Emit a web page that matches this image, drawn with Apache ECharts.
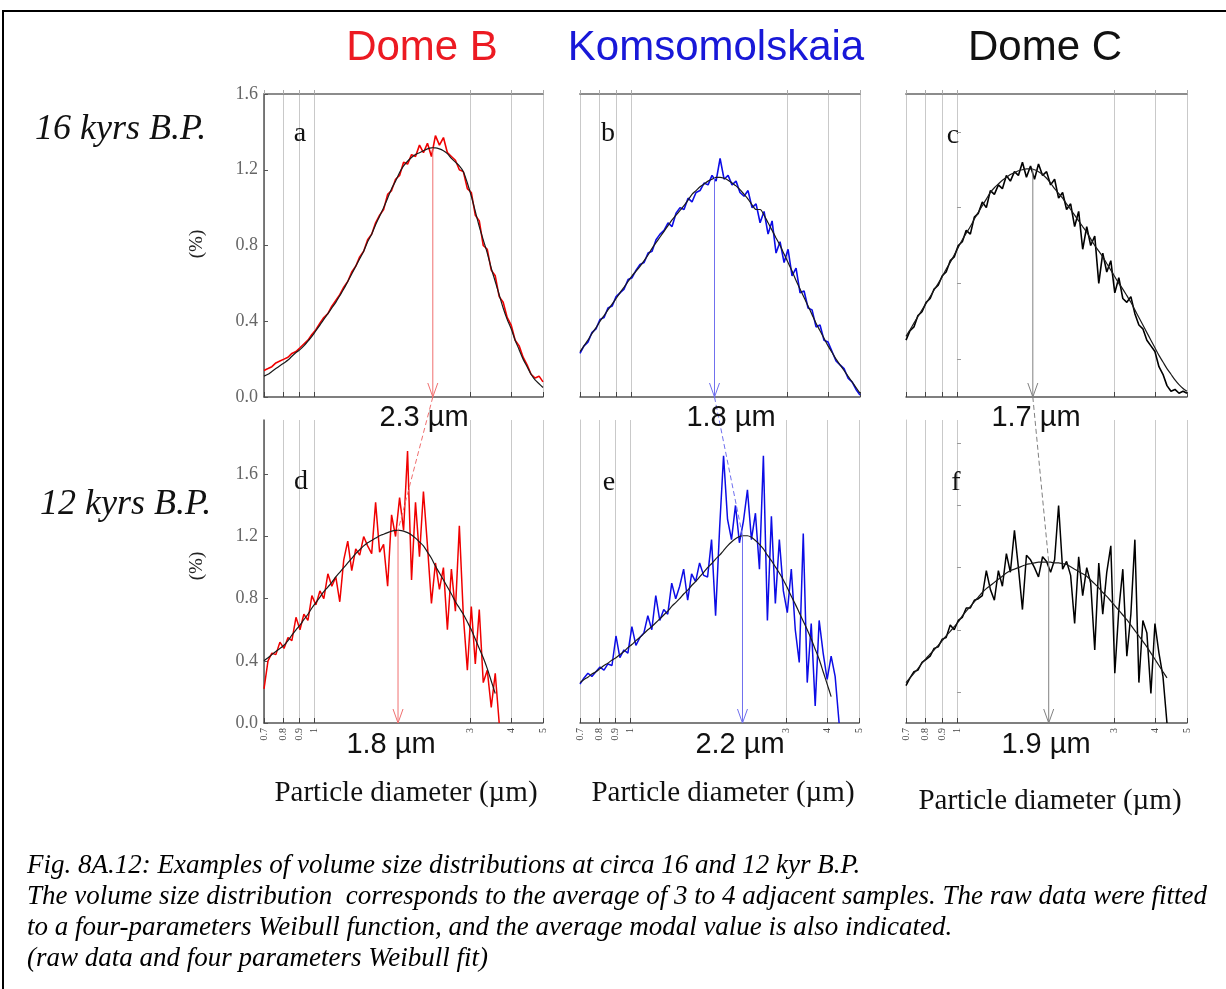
<!DOCTYPE html>
<html>
<head>
<meta charset="utf-8">
<script src="https://cdn.jsdelivr.net/npm/echarts@6/dist/echarts.min.js"></script>
<style>
html, body { margin: 0; padding: 0; background: #fff; }
#chart { width: 1226px; height: 989px; }
</style>
</head>
<body>
<div id="chart"></div>
<script>
// particle diameter grid (um), log spaced, shared by all panels
var diam = [0.700, 0.720, 0.740, 0.761, 0.783, 0.806, 0.829, 0.852, 0.877, 0.902,
    0.927, 0.954, 0.981, 1.009, 1.038, 1.067, 1.098, 1.129, 1.161, 1.194,
    1.228, 1.263, 1.299, 1.336, 1.374, 1.413, 1.453, 1.495, 1.537, 1.581,
    1.626, 1.673, 1.720, 1.769, 1.820, 1.872, 1.925, 1.980, 2.036, 2.094,
    2.153, 2.215, 2.278, 2.343, 2.410, 2.479, 2.549, 2.622, 2.697, 2.773,
    2.852, 2.934, 3.017, 3.103, 3.191, 3.282, 3.376, 3.472, 3.571, 3.672,
    3.776, 3.884, 3.995, 4.109, 4.226, 4.346, 4.470, 4.597, 4.728, 4.863, 5.000];

// a - Dome B, 16 kyr
var rawA = [0.14, 0.15, 0.16, 0.18, 0.19, 0.20, 0.21, 0.23, 0.24, 0.26,
    0.28, 0.30, 0.33, 0.355, 0.39, 0.42, 0.44, 0.48, 0.51, 0.54,
    0.58, 0.61, 0.66, 0.69, 0.74, 0.77, 0.83, 0.86, 0.92, 0.96,
    0.99, 1.07, 1.09, 1.15, 1.17, 1.24, 1.23, 1.28, 1.27, 1.33,
    1.29, 1.34, 1.27, 1.38, 1.33, 1.37, 1.29, 1.27, 1.25, 1.20,
    1.19, 1.10, 1.08, 0.96, 0.93, 0.80, 0.78, 0.67, 0.64, 0.53,
    0.50, 0.42, 0.38, 0.30, 0.27, 0.21, 0.17, 0.12, 0.10, 0.11, 0.08];
var fitA = [0.11, 0.12, 0.135, 0.15, 0.165, 0.18, 0.195, 0.215, 0.235, 0.25,
    0.27, 0.295, 0.32, 0.35, 0.38, 0.41, 0.44, 0.47, 0.50, 0.535,
    0.57, 0.61, 0.65, 0.69, 0.73, 0.77, 0.82, 0.86, 0.91, 0.955,
    1.00, 1.05, 1.10, 1.14, 1.185, 1.22, 1.245, 1.265, 1.28, 1.29,
    1.30, 1.31, 1.315, 1.315, 1.31, 1.30, 1.285, 1.26, 1.24, 1.22,
    1.19, 1.13, 1.06, 0.98, 0.90, 0.83, 0.76, 0.68, 0.61, 0.54,
    0.47, 0.41, 0.36, 0.30, 0.25, 0.20, 0.16, 0.12, 0.09, 0.07, 0.05];

// b - Komsomolskaia, 16 kyr
var rawB = [0.23, 0.27, 0.29, 0.34, 0.36, 0.41, 0.42, 0.47, 0.48, 0.53,
    0.55, 0.57, 0.62, 0.63, 0.67, 0.70, 0.71, 0.76, 0.77, 0.83,
    0.86, 0.88, 0.92, 0.90, 0.97, 1.00, 0.99, 1.05, 1.03, 1.08,
    1.09, 1.13, 1.12, 1.17, 1.14, 1.26, 1.15, 1.17, 1.12, 1.14,
    1.08, 1.06, 1.09, 1.00, 1.02, 0.92, 0.98, 0.86, 0.93, 0.76,
    0.82, 0.71, 0.78, 0.64, 0.68, 0.55, 0.56, 0.47, 0.46, 0.37,
    0.38, 0.30, 0.29, 0.24, 0.19, 0.17, 0.15, 0.10, 0.08, 0.04, 0.01];
var fitB = [0.24, 0.27, 0.30, 0.335, 0.365, 0.40, 0.43, 0.46, 0.49, 0.52,
    0.55, 0.58, 0.61, 0.64, 0.665, 0.69, 0.72, 0.75, 0.785, 0.815,
    0.845, 0.875, 0.905, 0.935, 0.96, 0.985, 1.01, 1.04, 1.07, 1.09,
    1.11, 1.125, 1.14, 1.15, 1.16, 1.16, 1.155, 1.145, 1.13, 1.115,
    1.095, 1.07, 1.045, 1.015, 0.99, 0.99, 0.96, 0.92, 0.88, 0.84,
    0.80, 0.755, 0.71, 0.665, 0.615, 0.57, 0.525, 0.48, 0.435, 0.39,
    0.35, 0.31, 0.27, 0.235, 0.20, 0.17, 0.14, 0.11, 0.08, 0.05, 0.02];

// c - Dome C, 16 kyr
var rawC = [0.30, 0.35, 0.37, 0.43, 0.45, 0.50, 0.52, 0.57, 0.59, 0.64,
    0.66, 0.72, 0.74, 0.80, 0.82, 0.88, 0.86, 0.95, 0.97, 1.03,
    1.00, 1.09, 1.07, 1.12, 1.10, 1.17, 1.14, 1.19, 1.17, 1.24,
    1.16, 1.22, 1.15, 1.23, 1.17, 1.19, 1.12, 1.15, 1.05, 1.08,
    0.99, 1.02, 0.90, 0.98, 0.78, 0.90, 0.80, 0.85, 0.60, 0.76,
    0.66, 0.72, 0.55, 0.63, 0.52, 0.50, 0.53, 0.44, 0.38, 0.36,
    0.30, 0.27, 0.24, 0.16, 0.12, 0.06, 0.03, 0.04, 0.02, 0.03, 0.02];
var fitC = [0.32, 0.355, 0.39, 0.425, 0.46, 0.495, 0.53, 0.565, 0.60, 0.635,
    0.675, 0.71, 0.75, 0.79, 0.83, 0.865, 0.90, 0.94, 0.975, 1.01,
    1.045, 1.08, 1.105, 1.125, 1.145, 1.16, 1.175, 1.185, 1.195, 1.20,
    1.205, 1.205, 1.20, 1.19, 1.175, 1.155, 1.13, 1.10, 1.075, 1.05,
    1.02, 0.99, 0.96, 0.93, 0.90, 0.87, 0.835, 0.80, 0.77, 0.74,
    0.705, 0.67, 0.635, 0.60, 0.57, 0.535, 0.50, 0.46, 0.42, 0.38,
    0.34, 0.30, 0.26, 0.22, 0.185, 0.15, 0.12, 0.09, 0.065, 0.045, 0.03];

// d - Dome B, 12 kyr
var rawD = [0.22, 0.40, 0.45, 0.44, 0.52, 0.48, 0.55, 0.53, 0.68, 0.60,
    0.70, 0.66, 0.82, 0.76, 0.85, 0.80, 0.96, 0.88, 0.94, 0.78,
    1.05, 1.17, 0.98, 1.12, 1.08, 1.20, 1.14, 1.09, 1.42, 1.10,
    1.15, 0.88, 1.34, 1.20, 1.45, 1.24, 1.75, 0.92, 1.42, 1.07,
    1.49, 1.14, 0.77, 1.03, 0.86, 1.00, 0.60, 0.99, 0.72, 1.27,
    0.69, 0.34, 0.75, 0.38, 0.73, 0.26, 0.34, 0.10, 0.32, 0.00];
var fitD = [0.40, 0.42, 0.44, 0.46, 0.48, 0.50, 0.53, 0.565, 0.60, 0.63,
    0.665, 0.70, 0.74, 0.775, 0.81, 0.845, 0.875, 0.905, 0.94, 0.97,
    1.00, 1.03, 1.06, 1.09, 1.115, 1.14, 1.16, 1.175, 1.19, 1.205,
    1.215, 1.225, 1.235, 1.24, 1.24, 1.235, 1.225, 1.21, 1.19, 1.165,
    1.14, 1.10, 1.06, 1.01, 0.965, 0.92, 0.875, 0.83, 0.78, 0.74,
    0.70, 0.65, 0.60, 0.54, 0.48, 0.42, 0.35, 0.27, 0.19];

// e - Komsomolskaia, 12 kyr
var rawE = [0.25, 0.29, 0.32, 0.30, 0.33, 0.36, 0.34, 0.38, 0.37, 0.56,
    0.42, 0.47, 0.45, 0.62, 0.50, 0.55, 0.58, 0.69, 0.60, 0.82,
    0.66, 0.73, 0.70, 0.90, 0.80, 0.88, 0.99, 0.79, 0.96, 0.91,
    1.03, 0.95, 0.94, 1.18, 0.69, 1.25, 1.72, 1.31, 1.18, 1.40,
    1.16, 1.30, 1.50, 1.18, 1.35, 0.99, 1.72, 0.66, 1.33, 0.77,
    1.18, 0.85, 0.71, 0.99, 0.60, 0.39, 1.22, 0.26, 0.64, 0.11,
    0.66, 0.45, 0.28, 0.43, 0.30, 0.00];
var fitE = [0.26, 0.28, 0.295, 0.315, 0.33, 0.35, 0.37, 0.385, 0.405, 0.42,
    0.44, 0.46, 0.485, 0.505, 0.53, 0.55, 0.575, 0.60, 0.62, 0.645,
    0.67, 0.695, 0.72, 0.75, 0.775, 0.80, 0.83, 0.855, 0.885, 0.91,
    0.94, 0.97, 1.00, 1.025, 1.055, 1.08, 1.11, 1.14, 1.165, 1.185,
    1.20, 1.205, 1.205, 1.195, 1.175, 1.15, 1.12, 1.08, 1.045, 1.005,
    0.965, 0.92, 0.87, 0.815, 0.765, 0.71, 0.655, 0.60, 0.54, 0.475,
    0.41, 0.33, 0.25, 0.17];

// f - Dome C, 12 kyr
var rawF = [0.24, 0.29, 0.33, 0.34, 0.39, 0.41, 0.43, 0.48, 0.49, 0.54,
    0.55, 0.63, 0.60, 0.66, 0.68, 0.74, 0.74, 0.79, 0.80, 0.82,
    0.98, 0.86, 0.79, 0.98, 0.88, 1.09, 0.97, 1.24, 1.00, 0.73,
    1.08, 1.05, 1.00, 0.94, 1.07, 1.04, 0.97, 1.05, 1.40, 0.99,
    1.04, 0.95, 0.64, 1.07, 0.82, 1.00, 0.90, 0.47, 1.03, 0.70,
    0.97, 1.14, 0.32, 0.73, 0.99, 0.43, 0.70, 1.18, 0.26, 0.66,
    0.58, 0.19, 0.64, 0.45, 0.30, 0.00];
var fitF = [0.26, 0.29, 0.32, 0.35, 0.385, 0.415, 0.445, 0.47, 0.50, 0.53,
    0.56, 0.59, 0.62, 0.65, 0.69, 0.72, 0.75, 0.78, 0.81, 0.84,
    0.865, 0.885, 0.905, 0.925, 0.945, 0.965, 0.98, 0.99, 1.00, 1.01,
    1.02, 1.025, 1.03, 1.035, 1.035, 1.035, 1.035, 1.03, 1.03, 1.025,
    1.02, 1.005, 0.99, 0.975, 0.96, 0.945, 0.92, 0.895, 0.87, 0.84,
    0.815, 0.785, 0.755, 0.725, 0.695, 0.665, 0.63, 0.595, 0.56, 0.525,
    0.49, 0.45, 0.41, 0.37, 0.33, 0.29];

// average modal values (um)
var topModes = [2.3, 1.8, 1.7];
var bottomModes = [1.8, 2.2, 1.9];

var gridTicks = [0.7, 0.8, 0.9, 1, 3, 4, 5];
var yTicks = [0, 0.4, 0.8, 1.2, 1.6];
var rightTicks = [0.2, 0.6, 1.0, 1.4, 1.8];
var sites = ['Dome B', 'Komsomolskaia', 'Dome C'];
var rowLabels = ['16 kyrs B.P.', '12 kyrs B.P.'];
var letters = ['a', 'b', 'c', 'd', 'e', 'f'];
var captionLines = [
    'Fig. 8A.12: Examples of volume size distributions at circa 16 and 12 kyr B.P.',
    'The volume size distribution  corresponds to the average of 3 to 4 adjacent samples. The raw data were fitted',
    'to a four-parameters Weibull function, and the average modal value is also indicated.',
    '(raw data and four parameters Weibull fit)'
];

var raws = [rawA, rawB, rawC, rawD, rawE, rawF];
var fits = [fitA, fitB, fitC, fitD, fitE, fitF];

// layout
var boxes = [
    [264, 94, 279, 303], [580, 94, 280, 303], [906, 94, 281, 303],
    [264, 420, 279, 303], [580, 420, 279, 303], [906, 420, 281, 303]
];
var siteColors = ['#f00000', '#0c0ce6', '#000000'];
var titleColors = ['#ec1a22', '#1818d8', '#111111'];
var arrowColors = ['#f07070', '#7070ee', '#808080'];
var titlePos = [422, 716, 1045];
var rowLabelPos = [[35, 130], [40, 505]];
var letterPos = [[300, 134], [608, 134], [953, 136], [301, 482], [609, 483], [956, 483]];
var modeLabelPos = [[424, 418], [731, 418], [1036, 418], [391, 745], [740, 745], [1046, 745]];
var xNamePos = [[406, 793], [723, 793], [1050, 801]];
var yNamePos = [[197, 244], [197, 566]];

var logMin = Math.log10(0.7);
var logMax = Math.log10(5);
var logTicks = gridTicks.map(function (v) { return Math.log10(v); });

function toPairs(vals) {
    return vals.map(function (v, i) { return [Math.log10(diam[i]), v]; });
}
function tickLabel(v) {
    var d = Math.pow(10, v);
    return d < 0.99 ? d.toFixed(1) : d.toFixed(0);
}
function peak(arr) {
    return Math.max.apply(null, arr);
}

var grids = [], xAxes = [], yAxes = [], series = [];
for (var i = 0; i < 6; i++) {
    var b = boxes[i];
    var isLeft = i % 3 === 0;
    var isBottom = i >= 3;
    var ymax = isBottom ? 1.95 : 1.6;
    grids.push({left: b[0], top: b[1], width: b[2], height: b[3]});
    xAxes.push({
        type: 'value', gridIndex: i, min: logMin, max: logMax,
        axisLine: {show: true, onZero: false, lineStyle: {color: '#555', width: 1.5}},
        axisTick: {show: true, inside: true, length: 5, customValues: logTicks,
            lineStyle: {color: '#444'}},
        axisLabel: {show: isBottom, customValues: logTicks, rotate: 90, margin: 5,
            fontSize: 10, fontFamily: 'Liberation Serif', color: '#444', formatter: tickLabel},
        splitLine: {show: true, lineStyle: {color: '#c9c9c9', width: 1}}
    });
    yAxes.push({
        type: 'value', gridIndex: i, min: 0, max: ymax,
        axisLine: {show: true, onZero: false,
            lineStyle: {color: isLeft ? '#555' : '#c9c9c9', width: isLeft ? 1.5 : 1}},
        axisTick: {show: isLeft, inside: true, length: 4, customValues: yTicks,
            lineStyle: {color: '#555'}},
        axisLabel: {show: isLeft, customValues: yTicks, margin: 6,
            fontSize: 18, fontFamily: 'Liberation Serif', color: '#666',
            formatter: function (v) { return v.toFixed(1); }},
        splitLine: {show: false}
    });
    var c = siteColors[i % 3];
    series.push({
        type: 'line', xAxisIndex: i, yAxisIndex: i, data: toPairs(raws[i]),
        symbol: 'none', silent: true,
        lineStyle: {color: c, width: isBottom ? 1.5 : 1.6}
    });
    series.push({
        type: 'line', xAxisIndex: i, yAxisIndex: i, data: toPairs(fits[i]),
        symbol: 'none', smooth: 0.3, silent: true,
        lineStyle: {color: '#1a1a1a', width: 1.2}
    });
}
// top frame line of the upper row
for (var j = 0; j < 3; j++) {
    xAxes.push({
        type: 'value', gridIndex: j, position: 'top', min: logMin, max: logMax,
        axisLine: {show: true, onZero: false, lineStyle: {color: '#8c8c8c', width: 2}},
        axisTick: {show: true, inside: false, length: 4, customValues: logTicks,
            lineStyle: {color: '#aaa'}},
        axisLabel: {show: false},
        splitLine: {show: false}
    });
}
// small ticks on the right side of the Dome C panels
[2, 5].forEach(function (g) {
    yAxes.push({
        type: 'value', gridIndex: g, position: 'right', min: 0, max: g < 3 ? 1.6 : 1.95,
        axisLine: {show: false},
        axisTick: {show: true, inside: false, length: 4,
            customValues: rightTicks.filter(function (v) { return v <= (g < 3 ? 1.6 : 1.95); }),
            lineStyle: {color: '#999'}},
        axisLabel: {show: false},
        splitLine: {show: false}
    });
});

var myChart = echarts.init(document.getElementById('chart'));
myChart.setOption({
    animation: false,
    backgroundColor: '#fff',
    grid: grids,
    xAxis: xAxes,
    yAxis: yAxes,
    series: series
});

function px(g, d, v) {
    return myChart.convertToPixel({xAxisIndex: g, yAxisIndex: g}, [Math.log10(d), v]);
}

var els = [];
// frame
els.push({type: 'rect', shape: {x: 3, y: 11, width: 1300, height: 1100},
    style: {stroke: '#000', lineWidth: 2, fill: 'none'}, silent: true});
// column titles
sites.forEach(function (s, k) {
    els.push({type: 'text', x: titlePos[k], y: 48, style: {text: s, fill: titleColors[k],
        font: '42px "Liberation Sans", Arial, sans-serif', align: 'center', verticalAlign: 'middle'}});
});
rowLabels.forEach(function (s, k) {
    els.push({type: 'text', x: rowLabelPos[k][0], y: rowLabelPos[k][1], style: {text: s, fill: '#111',
        font: 'italic 36px "Liberation Serif", serif', align: 'left', verticalAlign: 'middle'}});
    els.push({type: 'text', x: yNamePos[k][0], y: yNamePos[k][1], rotation: Math.PI / 2,
        style: {text: '(%)', fill: '#222', font: '19px "Liberation Serif", serif',
            align: 'center', verticalAlign: 'middle'}});
});
letters.forEach(function (s, k) {
    els.push({type: 'text', x: letterPos[k][0], y: letterPos[k][1], style: {text: s, fill: '#111',
        font: '28px "Liberation Serif", serif', align: 'center', verticalAlign: 'middle'}});
});
xNamePos.forEach(function (p) {
    els.push({type: 'text', x: p[0], y: p[1], style: {text: 'Particle diameter (\u00b5m)', fill: '#111',
        font: '29px "Liberation Serif", serif', align: 'center', verticalAlign: 'middle'}});
});
captionLines.forEach(function (s, k) {
    els.push({type: 'text', x: 27, y: 866 + k * 31, style: {text: s, fill: '#000',
        font: 'italic 27px "Liberation Serif", serif', align: 'left', verticalAlign: 'middle'}});
});

// modal value arrows, labels and dashed links between rows
function arrow(g, mode, color) {
    var p0 = px(g, mode, peak(fits[g]));
    var p1 = px(g, mode, 0);
    els.push({type: 'line', silent: true, z: 10, shape: {x1: p0[0], y1: p0[1], x2: p1[0], y2: p1[1]},
        style: {stroke: color, lineWidth: 1}});
    els.push({type: 'polyline', silent: true, z: 10,
        shape: {points: [[p1[0] - 5, p1[1] - 14], [p1[0], p1[1]], [p1[0] + 5, p1[1] - 14]]},
        style: {stroke: color, lineWidth: 1, fill: 'none'}});
}
for (var k = 0; k < 3; k++) {
    arrow(k, topModes[k], arrowColors[k]);
    arrow(k + 3, bottomModes[k], arrowColors[k]);
    var a0 = px(k, topModes[k], 0);
    var a1 = px(k + 3, bottomModes[k], peak(fits[k + 3]));
    els.push({type: 'line', silent: true, z: 10, shape: {x1: a0[0], y1: a0[1], x2: a1[0], y2: a1[1]},
        style: {stroke: arrowColors[k], lineWidth: 1, lineDash: [5, 3]}});
}
[topModes, bottomModes].forEach(function (modes, r) {
    modes.forEach(function (m, k) {
        var p = modeLabelPos[r * 3 + k];
        els.push({type: 'text', x: p[0], y: p[1], z: 11, style: {text: m.toFixed(1) + ' \u00b5m', fill: '#111',
            font: '29px "Liberation Sans", Arial, sans-serif', align: 'center', verticalAlign: 'middle'}});
    });
});

myChart.setOption({graphic: {elements: els}});
</script>
</body>
</html>
